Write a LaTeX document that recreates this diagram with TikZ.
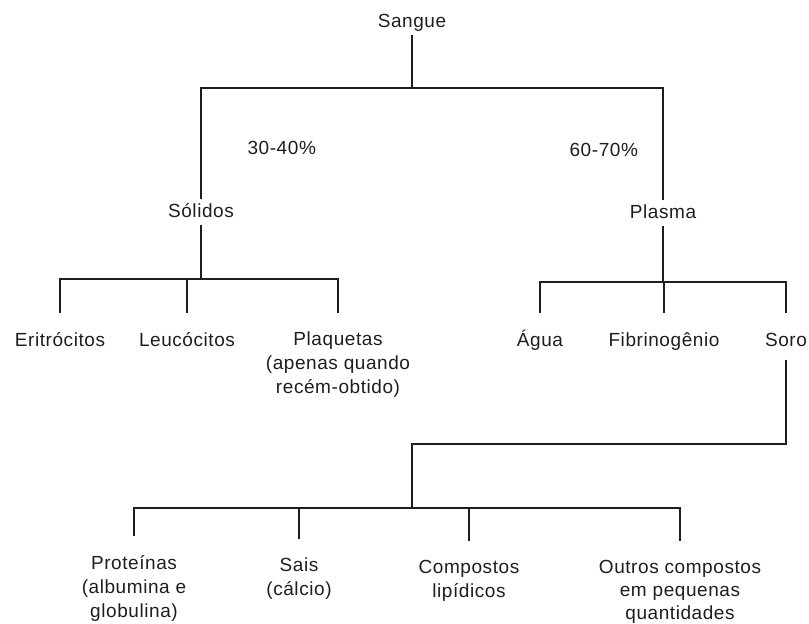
\documentclass[tikz,border=0pt]{standalone}
\usepackage{fontspec}
\setmainfont{Liberation Sans}[LetterSpace=3]
\definecolor{ink}{HTML}{1E1E1E}
\begin{document}
\begin{tikzpicture}[x=1pt,y=-1pt,line width=1.2pt,draw=ink,
  item/.style={font=\fontsize{19}{24}\selectfont,text=ink,inner sep=3pt,
    text height=14pt,text depth=4pt,anchor=base},
  group/.style={font=\fontsize{19}{24}\selectfont,text=ink,inner sep=3pt,
    align=center,anchor=base},
  leg/.style={shorten >=15pt}]
\useasboundingbox (0,0) rectangle (809,624);
% top levels
\node[item] (sangue) at (412,27) {Sangue};
\node[item] (solidos) at (201,217) {Sólidos};
\node[item] (plasma) at (663,218) {Plasma};
\node[item,anchor=base west] (pctsol) at (244,154) {30-40\%};
\node[item,anchor=base west] (pctpla) at (566,156) {60-70\%};
% second row (group nodes sit on their last line)
\node[item] (eri) at (60,346) {Eritrócitos};
\node[item] (leu) at (187,346) {Leucócitos};
\node[group] (plaq) at (338,393) {Plaquetas\\(apenas quando\\recém-obtido)};
\node[item] (agua) at (540,346) {Água};
\node[item] (fib) at (664,346) {Fibrinogênio};
\node[item] (soro) at (786,346) {Soro};
% serum parts
\node[group] (prot) at (134,617) {Proteínas\\(albumina e\\globulina)};
\node[group] (sais) at (299,595) {Sais\\(cálcio)};
\node[group] (lip) at (469,597) {Compostos\\lipídicos};
\node[group,font=\fontsize{19}{23}\selectfont] (outros) at (680,619)
  {Outros compostos\\em pequenas\\quantidades};
% bars
\coordinate (bar1) at (412,88);
\coordinate (bar2) at (201,279);
\coordinate (bar3) at (663,282);
\coordinate (bar4) at (412,444);
\coordinate (bar5) at (412,508);
\draw (sangue) -- (bar1);
\draw (solidos.north) |- (bar1) -| (plasma.north);
\draw (solidos) -- (bar2);
\draw[leg] (bar2) -| (eri);
\draw[leg] (bar2) -| (leu);
\draw[leg] (bar2) -| (plaq);
\draw (plasma) -- (bar3);
\draw[leg] (bar3) -| (agua);
\draw[leg] (bar3) -| (fib);
\draw[leg] (bar3) -| (soro);
\draw[shorten <=6pt] (soro) |- (bar4) -- (bar5);
\draw[leg] (bar5) -| (prot);
\draw[leg] (bar5) -| (sais);
\draw[leg] (bar5) -| (lip);
\draw[leg] (bar5) -| (outros);
\end{tikzpicture}
\end{document}
